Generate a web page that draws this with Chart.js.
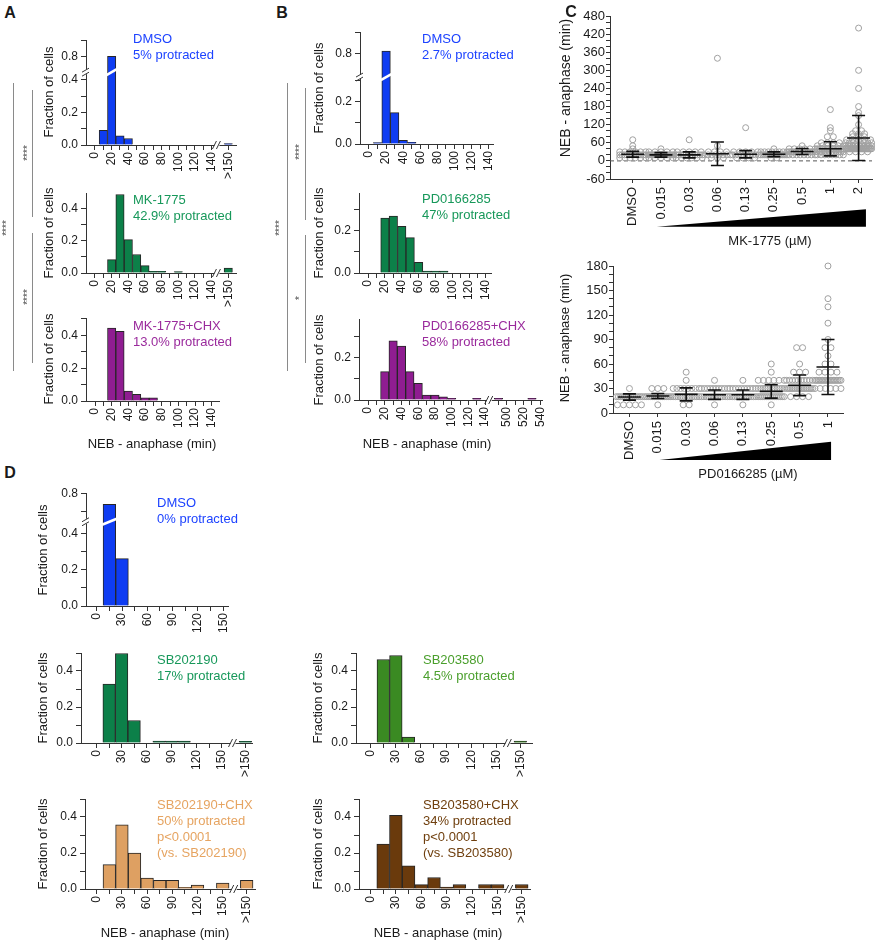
<!DOCTYPE html>
<html>
<head>
<meta charset="utf-8">
<script src="https://cdn.jsdelivr.net/npm/chart.js@4.4.1/dist/chart.umd.min.js"></script>
<style>
  body { margin: 0; background: #fff; }
  #fig { position: relative; width: 880px; height: 945px; overflow: hidden;
         font-family: "Liberation Sans", Arial, Helvetica, sans-serif; color: #1a1a1a; }
  #fig canvas { position: absolute; }
  .txt { position: absolute; white-space: nowrap; font-size: 13px; line-height: 16px; }
  .vt { position: absolute; white-space: nowrap; font-size: 13px; transform: translate(-50%, -50%) rotate(-90deg); }
  .ht { position: absolute; white-space: nowrap; font-size: 13px; transform: translate(-50%, -50%); }
  .letter { position: absolute; font-weight: bold; font-size: 16px; transform: translate(-50%, -50%); }
  .vl { position: absolute; width: 1px; background: #8a8a8a; }
  .stars { position: absolute; white-space: nowrap; font-size: 10px; color: #444; transform: translate(-50%, -50%) rotate(-90deg); }
</style>
</head>
<body>
<div id="fig"></div>
<script>
// ---- histogram data: bin (min) and fraction of cells ----
const abTickMin = [0, 10, 20, 30, 40, 50, 60, 70, 80, 90, 100, 110, 120, 130, 140];
const b3HighTickMin = [490, 500, 510, 520, 530, 540];
const dTickMin = [0, 15, 30, 45, 60, 75, 90, 105, 120, 135, 150];

const aDmsoBins = [10, 20, 30, 40, '>150'];
const aDmsoFrac = [0.09, 0.80, 0.057, 0.04, 0.008];
const aMkBins = [20, 30, 40, 50, 60, 70, 80, 100, '>150'];
const aMkFrac = [0.083, 0.485, 0.206, 0.114, 0.046, 0.01, 0.01, 0.008, 0.031];
const aMkChxBins = [20, 30, 40, 50, 60, 70];
const aMkChxFrac = [0.445, 0.425, 0.061, 0.041, 0.02, 0.02];

const bDmsoBins = [10, 20, 30, 40, 50];
const bDmsoFrac = [0.007, 0.81, 0.148, 0.017, 0.008];
const bPdBins = [20, 30, 40, 50, 60, 70, 80, 90];
const bPdFrac = [0.258, 0.268, 0.219, 0.166, 0.05, 0.009, 0.009, 0.009];
const bPdChxBins = [20, 30, 40, 50, 60, 70, 80, 90, 100, 130, 490, 530];
const bPdChxFrac = [0.133, 0.278, 0.253, 0.133, 0.078, 0.023, 0.023, 0.015, 0.008, 0.008, 0.008, 0.008];

const dDmsoBins = [15, 30];
const dDmsoFrac = [0.74, 0.26];
const dSb19Bins = [15, 30, 45, 75, 90, 105, '>150'];
const dSb19Frac = [0.328, 0.497, 0.125, 0.01, 0.01, 0.01, 0.009];
const dSb35Bins = [15, 30, 45, '>150'];
const dSb35Frac = [0.464, 0.486, 0.033, 0.01];
const dSb19ChxBins = [15, 30, 45, 60, 75, 90, 105, 120, 150, '>150'];
const dSb19ChxFrac = [0.135, 0.357, 0.2, 0.061, 0.048, 0.048, 0.009, 0.022, 0.033, 0.048];
const dSb35ChxBins = [15, 30, 45, 60, 75, 90, 105, 135, 150, '>150'];
const dSb35ChxFrac = [0.25, 0.409, 0.129, 0.024, 0.064, 0.01, 0.025, 0.025, 0.025, 0.025];

// ---- dose response (panel C): [value, count] per dose, mean and SD ----
const mkDoses = ['DMSO', '0.015', '0.03', '0.06', '0.13', '0.25', '0.5', '1', '2'];
const mkMean = [22, 20, 20, 23.5, 22, 22, 31, 40, 76];
const mkSd = [9.5, 7.5, 10, 39, 12, 8, 10, 23.5, 74.5];
const mkPts = [
  [[10, 6], [20, 12], [30, 6], [40, 1], [50, 1], [70, 1]],
  [[10, 5], [20, 14], [30, 5], [40, 1]],
  [[10, 6], [20, 12], [30, 5], [70, 1]],
  [[10, 3], [20, 8], [30, 4], [50, 1], [340, 1]],
  [[10, 4], [20, 10], [30, 5], [110, 1]],
  [[10, 2], [20, 14], [30, 8], [40, 1]],
  [[20, 8], [30, 16], [40, 6], [50, 1]],
  [[20, 8], [30, 12], [40, 14], [50, 6], [60, 4], [80, 2], [100, 1], [110, 1], [170, 1]],
  [[30, 4], [40, 26], [50, 12], [60, 8], [70, 5], [80, 3], [90, 3], [100, 2], [120, 1], [150, 1], [160, 1], [180, 1], [240, 1], [300, 1], [440, 1]]
];
const mkYMajor = [-60, 0, 60, 120, 180, 240, 300, 360, 420, 480];

const pdDoses = ['DMSO', '0.015', '0.03', '0.06', '0.13', '0.25', '0.5', '1'];
const pdMean = [19.6, 20.8, 22.8, 22.4, 22.4, 26.5, 33.9, 56.3];
const pdSd = [3.8, 3.1, 8, 5.7, 5.7, 8.3, 12.6, 33.7];
const pdPts = [
  [[10, 5], [20, 14], [30, 1]],
  [[10, 1], [20, 14], [30, 3]],
  [[10, 2], [20, 12], [30, 8], [40, 1], [50, 1]],
  [[10, 1], [20, 12], [30, 10], [40, 1]],
  [[10, 1], [20, 12], [30, 10], [40, 1]],
  [[10, 1], [20, 14], [30, 12], [40, 6], [50, 1], [60, 1]],
  [[20, 4], [30, 16], [40, 10], [50, 3], [60, 1], [80, 2]],
  [[30, 6], [40, 18], [50, 4], [60, 2], [70, 1], [80, 2], [90, 1], [110, 1], [130, 1], [140, 1], [180, 1]]
];
const pdYMajor = [0, 30, 60, 90, 120, 150, 180];

// ---- colours ----
const AX = '#333333';
const blue = {bar: '#0e3cf2', txt: '#1d43ff'};
const green = {bar: '#0c8049', txt: '#17985a'};
const purple = {bar: '#8f1d91', txt: '#9a2a9c'};
const sbGreen = {bar: '#3a8a22', txt: '#4a9f2c'};
const tan = {bar: '#dea062', txt: '#e6a461'};
const brown = {bar: '#6a3a0c', txt: '#70400f'};

Chart.defaults.font.family = '"Liberation Sans", Arial, Helvetica, sans-serif';
Chart.defaults.color = '#1a1a1a';

const fig = document.getElementById('fig');

function place(area, m) {
  const x0 = Math.round(area[0]), y0 = Math.round(area[1]);
  const x1 = Math.round(area[2]), y1 = Math.round(area[3]);
  const c = document.createElement('canvas');
  const w = x1 - x0 + m.l + m.r, h = y1 - y0 + m.t + m.b;
  c.width = w; c.height = h;
  Object.assign(c.style, {left: (x0 - m.l) + 'px', top: (y0 - m.t) + 'px', width: w + 'px', height: h + 'px'});
  fig.appendChild(c);
  return c;
}

function fixBox(dim, size) {
  return s => {
    if (dim === 'w') s.width = size; else s.height = size;
    s.paddingLeft = 0; s.paddingRight = 0; s.paddingTop = 0; s.paddingBottom = 0;
  };
}

function axisBase(len) {
  return {
    grid: {drawOnChartArea: false, drawTicks: true, tickLength: len, color: AX, lineWidth: 1, offset: false},
    border: {display: true, color: AX, width: 1}
  };
}

const slotAB = b => b === '>150' ? 16 : b / 10;
const slotB3 = b => b <= 150 ? b / 10 : 16.6 + (b - 500) / 10;
const slotD = b => b === '>150' ? 11.9 : b / 15;
const plain = v => v;
const broken = (cut, off) => v => v > cut ? v - off : v;

function xSpec(mins, every, slot, over) {
  const xt = [], lab = {};
  mins.forEach(mn => {
    const s = slot(mn);
    xt.push(s);
    lab[s.toFixed(2)] = mn % every === 0 ? String(mn) : '';
  });
  if (over) {
    const s = slot('>150');
    xt.push(s);
    lab[s.toFixed(2)] = '>150';
  }
  return {xt, xl: v => lab[v.toFixed(2)] ?? ''};
}

function ySpec(vals, disp) {
  const yt = [], lab = {};
  vals.forEach(v => {
    const d = disp(v);
    yt.push(d);
    lab[d.toFixed(3)] = Math.round(v * 10) % 2 === 0 ? v.toFixed(1) : '';
  });
  return {yt, yl: v => lab[v.toFixed(3)] ?? ''};
}

function breaks(o) {
  return {
    id: 'breaks',
    afterDatasetsDraw(chart) {
      if (o.yBreak == null) return;
      const ctx = chart.ctx, py = chart.scales.y.getPixelForValue(o.yBreak);
      ctx.save();
      ctx.strokeStyle = '#fff';
      ctx.lineWidth = 2.5;
      chart.getDatasetMeta(0).data.forEach(b => {
        if (b.y < py - 3) {
          const hw = b.width / 2 + 1;
          ctx.beginPath();
          ctx.moveTo(b.x - hw, py + 3);
          ctx.lineTo(b.x + hw, py - 3);
          ctx.stroke();
        }
      });
      ctx.restore();
    },
    afterDraw(chart) {
      const ctx = chart.ctx, ca = chart.chartArea;
      ctx.save();
      ctx.strokeStyle = AX;
      ctx.lineWidth = 1;
      if (o.xBreak != null) {
        const px = chart.scales.x.getPixelForValue(o.xBreak), py = ca.bottom;
        ctx.fillStyle = '#fff';
        ctx.fillRect(px - 3, py - 2, 5, 4);
        ctx.beginPath();
        ctx.moveTo(px - 5, py + 4); ctx.lineTo(px - 1, py - 4);
        ctx.moveTo(px - 1, py + 4); ctx.lineTo(px + 3, py - 4);
        ctx.stroke();
      }
      if (o.yBreak != null) {
        const py = chart.scales.y.getPixelForValue(o.yBreak), px = ca.left;
        ctx.fillStyle = '#fff';
        ctx.fillRect(px - 2, py - 3, 4, 5);
        ctx.beginPath();
        ctx.moveTo(px - 4, py); ctx.lineTo(px + 3, py - 4);
        ctx.moveTo(px - 4, py + 4); ctx.lineTo(px + 3, py);
        ctx.stroke();
      }
      ctx.restore();
    }
  };
}

function hist(o) {
  const m = {l: 40, t: 10, r: 12, b: 42};
  const cv = place(o.area, m);
  const disp = o.disp || plain;
  const xs = xSpec(o.ticks, o.every, o.slot, o.over);
  const ys = ySpec(o.yTicks, disp);
  const data = o.bins.map((b, i) => ({x: o.slot(b), y: disp(o.frac[i])}));
  new Chart(cv, {
    type: 'bar',
    data: {datasets: [{data, backgroundColor: o.fill, borderColor: '#262626', borderWidth: 1,
      barPercentage: 1, categoryPercentage: 1}]},
    options: {
      responsive: false, animation: false, events: [],
      layout: {padding: {left: 0, top: m.t, right: m.r, bottom: 0}},
      plugins: {legend: {display: false}, tooltip: {enabled: false}},
      scales: {
        x: Object.assign(axisBase(5), {
          type: 'linear', min: o.xr[0], max: o.xr[1], bounds: 'data', offset: false,
          afterBuildTicks: s => { s.ticks = xs.xt.map(v => ({value: v})); },
          afterFit: fixBox('h', m.b),
          ticks: {autoSkip: false, minRotation: 90, maxRotation: 90, padding: 2, font: {size: 12},
            callback: v => xs.xl(v)}
        }),
        y: Object.assign(axisBase(5), {
          type: 'linear', min: 0, max: o.yMax, bounds: 'data',
          afterBuildTicks: s => { s.ticks = ys.yt.map(v => ({value: v})); },
          afterFit: fixBox('w', m.l),
          ticks: {autoSkip: false, padding: 3, font: {size: 12}, callback: v => ys.yl(v)}
        })
      }
    },
    plugins: [breaks(o)]
  });
}

function doseDeco(o) {
  return {
    id: 'doseDeco',
    beforeDatasetsDraw(chart) {
      if (!o.zeroLine) return;
      const {ctx, chartArea: ca} = chart, py = chart.scales.y.getPixelForValue(0);
      ctx.save();
      ctx.strokeStyle = '#555';
      ctx.lineWidth = 1;
      ctx.setLineDash([4, 3]);
      ctx.beginPath(); ctx.moveTo(ca.left, py); ctx.lineTo(ca.right, py); ctx.stroke();
      ctx.restore();
    },
    afterDatasetsDraw(chart) {
      const {ctx} = chart, x = chart.scales.x, y = chart.scales.y;
      ctx.save();
      ctx.strokeStyle = '#111';
      ctx.lineWidth = 1.6;
      o.mean.forEach((mu, i) => {
        const px = x.getPixelForValue(i), pm = y.getPixelForValue(mu);
        const pt = y.getPixelForValue(mu + o.sd[i]), pb = y.getPixelForValue(mu - o.sd[i]);
        ctx.beginPath();
        ctx.moveTo(px, pt); ctx.lineTo(px, pb);
        ctx.moveTo(px - 6.5, pt); ctx.lineTo(px + 6.5, pt);
        ctx.moveTo(px - 6.5, pb); ctx.lineTo(px + 6.5, pb);
        ctx.moveTo(px - 11.5, pm); ctx.lineTo(px + 11.5, pm);
        ctx.stroke();
      });
      ctx.restore();
    },
    afterDraw(chart) {
      const {ctx, chartArea: ca} = chart, x = chart.scales.x;
      const l = x.getPixelForValue(o.wedge[0]), r = x.getPixelForValue(o.wedge[1]);
      ctx.save();
      ctx.fillStyle = '#000';
      ctx.beginPath();
      ctx.moveTo(l, ca.bottom + o.wedge[2]);
      ctx.lineTo(r, ca.bottom + o.wedge[2]);
      ctx.lineTo(r, ca.bottom + o.wedge[3]);
      ctx.closePath();
      ctx.fill();
      ctx.restore();
    }
  };
}

function dose(o) {
  const m = {l: 40, t: 10, r: 10, b: 54};
  const cv = place(o.area, m);
  const step = (Math.round(o.area[2]) - Math.round(o.area[0])) / (o.xr[1] - o.xr[0]);
  const pts = [];
  o.pts.forEach((grp, i) => grp.forEach(([v, n]) => {
    const sp = n > 1 ? Math.min(6, 26 / (n - 1)) : 0;
    for (let k = 0; k < n; k++) pts.push({x: i + (k - (n - 1) / 2) * sp / step, y: v});
  }));
  const yt = [];
  for (let v = o.major[0]; v <= o.major[o.major.length - 1]; v += o.minor) yt.push(v);
  const majStep = o.major[1] - o.major[0];
  new Chart(cv, {
    type: 'scatter',
    data: {datasets: [{data: pts, pointRadius: 3, pointBorderWidth: 1, pointBorderColor: '#a0a0a0',
      pointBackgroundColor: 'rgba(255,255,255,0)', clip: false}]},
    options: {
      responsive: false, animation: false, events: [],
      layout: {padding: {left: 0, top: m.t, right: m.r, bottom: 0}},
      plugins: {legend: {display: false}, tooltip: {enabled: false}},
      scales: {
        x: Object.assign(axisBase(4), {
          type: 'linear', min: o.xr[0], max: o.xr[1], bounds: 'data',
          afterBuildTicks: s => { s.ticks = o.labels.map((_, i) => ({value: i})); },
          afterFit: fixBox('h', m.b),
          ticks: {autoSkip: false, minRotation: 90, maxRotation: 90, padding: 4, font: {size: 13},
            callback: v => o.labels[v]}
        }),
        y: Object.assign(axisBase(4), {
          type: 'linear', min: o.major[0], max: o.major[o.major.length - 1], bounds: 'data',
          afterBuildTicks: s => { s.ticks = yt.map(v => ({value: v})); },
          afterFit: fixBox('w', m.l),
          ticks: {autoSkip: false, padding: 1, font: {size: 13},
            callback: v => (v - o.major[0]) % majStep === 0 ? String(v) : ''}
        })
      }
    },
    plugins: [doseDeco(o)]
  });
}

// ---- text helpers ----
function put(cls, x, y, text, extra) {
  const d = document.createElement('div');
  d.className = cls;
  d.style.left = x + 'px';
  d.style.top = y + 'px';
  d.textContent = text;
  if (extra) Object.assign(d.style, extra);
  fig.appendChild(d);
}
function note(x, y, color, lines) {
  lines.forEach((t, i) => put('txt', x, y - 8 + i * 16, t, {color}));
}
function vline(x, y0, y1) {
  const d = document.createElement('div');
  d.className = 'vl';
  Object.assign(d.style, {left: x + 'px', top: y0 + 'px', height: (y1 - y0) + 'px'});
  fig.appendChild(d);
}

// ---- panel A ----
const yA1 = [0, 0.1, 0.2, 0.3, 0.4, 0.8, 0.9];
const y05 = [0, 0.1, 0.2, 0.3, 0.4, 0.5];
const y04 = [0, 0.1, 0.2, 0.3, 0.4];
const y03 = [0, 0.1, 0.2, 0.3];

hist({area: [86, 40, 236, 145], xr: [-1.08, 16.93], slot: slotAB, ticks: abTickMin, every: 20, over: true,
  bins: aDmsoBins, frac: aDmsoFrac, fill: blue.bar, yMax: 0.646, yTicks: yA1,
  disp: broken(0.45, 0.254), yBreak: 0.448, xBreak: 14.7});
hist({area: [86, 193, 236, 273], xr: [-1.08, 16.93], slot: slotAB, ticks: abTickMin, every: 20, over: true,
  bins: aMkBins, frac: aMkFrac, fill: green.bar, yMax: 0.494, yTicks: y04, xBreak: 14.7});
hist({area: [86, 318, 219, 401], xr: [-1.08, 14.88], slot: slotAB, ticks: abTickMin, every: 20, over: false,
  bins: aMkChxBins, frac: aMkChxFrac, fill: purple.bar, yMax: 0.506, yTicks: y05});

// ---- panel B ----
hist({area: [360, 32, 493, 144], xr: [-1.05, 14.5], slot: slotAB, ticks: abTickMin, every: 20, over: false,
  bins: bDmsoBins, frac: bDmsoFrac, fill: blue.bar, yMax: 0.527, yTicks: [0, 0.1, 0.2, 0.3, 0.8, 0.9],
  disp: broken(0.5, 0.373), yBreak: 0.315});
hist({area: [359, 193, 491, 273], xr: [-1.08, 14.6], slot: slotAB, ticks: abTickMin, every: 20, over: false,
  bins: bPdBins, frac: bPdFrac, fill: green.bar, yMax: 0.376, yTicks: y03});
hist({area: [359, 319, 542, 400], xr: [-1.08, 20.8], slot: slotB3, ticks: abTickMin.concat(b3HighTickMin), every: 20, over: false,
  bins: bPdChxBins, frac: bPdChxFrac, fill: purple.bar, yMax: 0.38, yTicks: y03, xBreak: 14.55});

// ---- panel C ----
dose({area: [610, 16, 872, 179], xr: [-0.805, 8.475], labels: mkDoses, pts: mkPts, mean: mkMean, sd: mkSd,
  major: mkYMajor, minor: 20, zeroLine: true, wedge: [0.85, 8.26, 47.7, 30.3]});
dose({area: [613, 266, 843, 413], xr: [-0.58, 7.53], labels: pdDoses, pts: pdPts, mean: pdMean, sd: pdSd,
  major: pdYMajor, minor: 10, zeroLine: false, wedge: [1.06, 7.11, 47, 28.7]});

// ---- panel D ----
hist({area: [86, 493, 228, 606], xr: [-0.85, 10.38], slot: slotD, ticks: dTickMin, every: 30, over: false,
  bins: dDmsoBins, frac: dDmsoFrac, fill: blue.bar, yMax: 0.621, yTicks: [0, 0.1, 0.2, 0.3, 0.4, 0.7, 0.8],
  disp: broken(0.5, 0.181), yBreak: 0.463});
hist({area: [81, 653, 252, 743], xr: [-1.25, 12.43], slot: slotD, ticks: dTickMin, every: 30, over: true,
  bins: dSb19Bins, frac: dSb19Frac, fill: green.bar, yMax: 0.5, yTicks: y05, xBreak: 10.95});
hist({area: [356, 653, 532, 743], xr: [-1.17, 12.83], slot: slotD, ticks: dTickMin, every: 30, over: true,
  bins: dSb35Bins, frac: dSb35Frac, fill: sbGreen.bar, yMax: 0.5, yTicks: y05, xBreak: 10.95});
hist({area: [85, 799, 255, 889], xr: [-0.93, 12.56], slot: slotD, ticks: dTickMin, every: 30, over: true,
  bins: dSb19ChxBins, frac: dSb19ChxFrac, fill: tan.bar, yMax: 0.5, yTicks: y05, xBreak: 10.95});
hist({area: [359, 799, 530, 889], xr: [-0.9, 12.55], slot: slotD, ticks: dTickMin, every: 30, over: true,
  bins: dSb35ChxBins, frac: dSb35ChxFrac, fill: brown.bar, yMax: 0.5, yTicks: y05, xBreak: 10.95});

// ---- labels, titles, annotations ----
put('letter', 10, 13, 'A');
put('letter', 282, 13, 'B');
put('letter', 571, 12, 'C');
put('letter', 10, 473, 'D');

note(133, 39, blue.txt, ['DMSO', '5% protracted']);
note(133, 200, green.txt, ['MK-1775', '42.9% protracted']);
note(133, 326, purple.txt, ['MK-1775+CHX', '13.0% protracted']);
note(422, 39, blue.txt, ['DMSO', '2.7% protracted']);
note(422, 199, green.txt, ['PD0166285', '47% protracted']);
note(422, 326, purple.txt, ['PD0166285+CHX', '58% protracted']);
note(157, 503, blue.txt, ['DMSO', '0% protracted']);
note(157, 660, green.txt, ['SB202190', '17% protracted']);
note(423, 660, sbGreen.txt, ['SB203580', '4.5% protracted']);
note(157, 805, tan.txt, ['SB202190+CHX', '50% protracted', 'p<0.0001', '(vs. SB202190)']);
note(423, 805, brown.txt, ['SB203580+CHX', '34% protracted', 'p<0.0001', '(vs. SB203580)']);

[[48, 92], [48, 233], [48, 359], [318, 88], [318, 233], [318, 360],
 [42, 550], [42, 698], [317, 698], [42, 844], [317, 844]].forEach(([x, y]) => put('vt', x, y, 'Fraction of cells'));
put('vt', 565, 88, 'NEB - anaphase (min)', {fontSize: '14px'});
put('vt', 564, 338, 'NEB - anaphase (min)');

put('ht', 152, 443, 'NEB - anaphase (min)');
put('ht', 427, 443, 'NEB - anaphase (min)');
put('ht', 770, 240, 'MK-1775 (µM)');
put('ht', 748, 473, 'PD0166285 (µM)');
put('ht', 165, 932, 'NEB - anaphase (min)');
put('ht', 438, 932, 'NEB - anaphase (min)');

// significance brackets
vline(13, 83, 371); put('stars', 6, 228, '****');
vline(32, 90, 217); put('stars', 27, 153, '****');
vline(32, 233, 363); put('stars', 27, 297, '****');
vline(287, 83, 371); put('stars', 279, 228, '****');
vline(305, 88, 220); put('stars', 299, 152, '****');
vline(305, 235, 363); put('stars', 299, 298, '*');
</script>
</body>
</html>
